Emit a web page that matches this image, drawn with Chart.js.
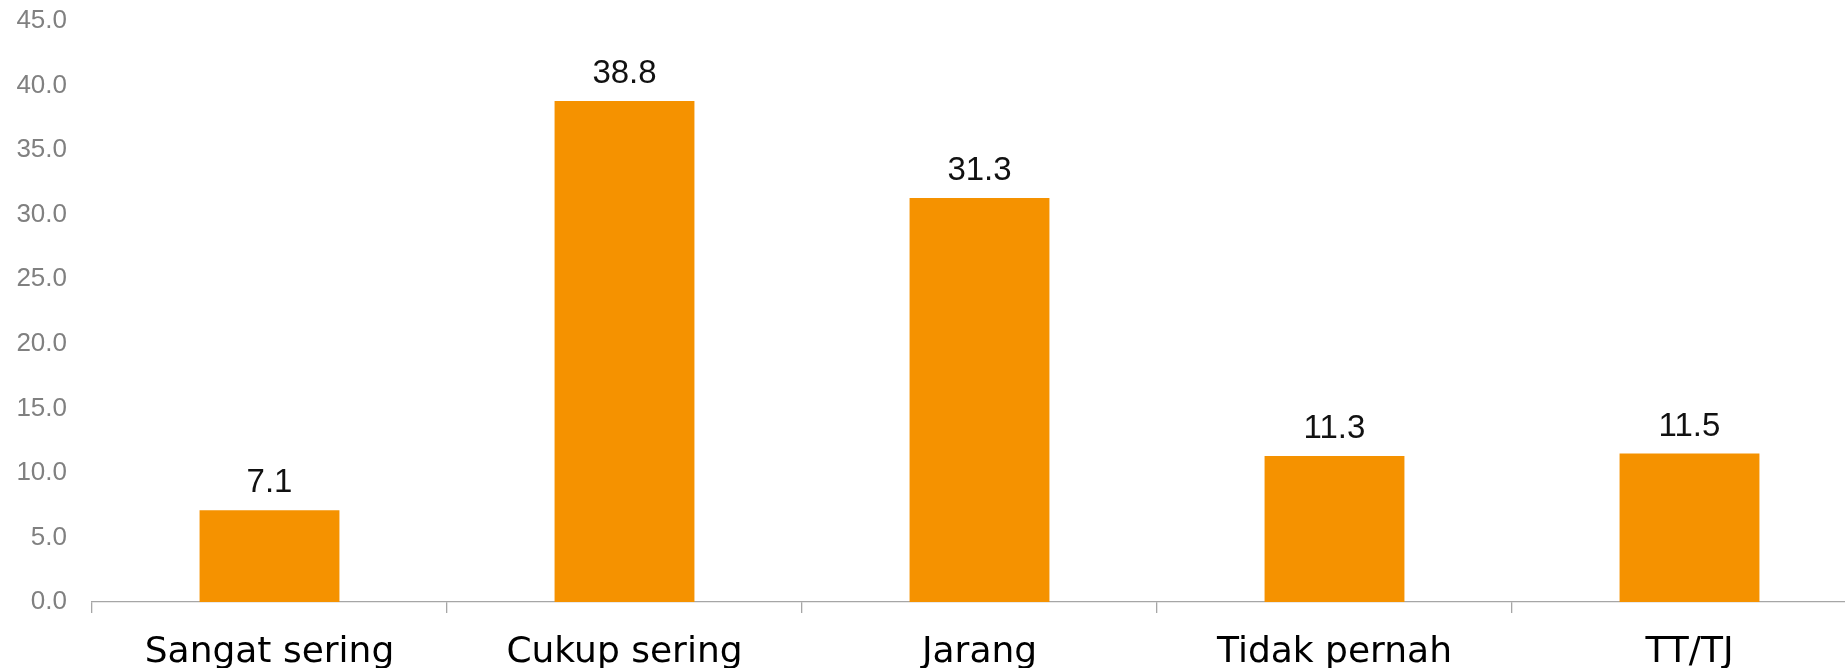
<!DOCTYPE html>
<html>
<head>
<meta charset="utf-8">
<script src="https://cdn.jsdelivr.net/npm/chart.js@4"></script>
<style>
  html, body { margin: 0; padding: 0; background: #fff; overflow: hidden; }
  #wrap { width: 1867px; height: 668px; }
</style>
</head>
<body>
<div id="wrap"><canvas id="chart-bars"></canvas></div>
<script>
// values
const categories = ['Sangat sering', 'Cukup sering', 'Jarang', 'Tidak pernah', 'TT/TJ'];
const values = [7.1, 38.8, 31.3, 11.3, 11.5];
const yMax = 45;
const yStep = 5;

// value labels above each bar
const barLabels = {
  id: 'barLabels',
  afterDatasetsDraw(chart) {
    const ctx = chart.ctx;
    const meta = chart.getDatasetMeta(0);
    ctx.save();
    ctx.font = '33px "Liberation Sans"';
    ctx.fillStyle = '#111';
    ctx.textAlign = 'center';
    ctx.textBaseline = 'alphabetic';
    meta.data.forEach((bar, i) => {
      ctx.fillText(values[i].toFixed(1), bar.x, bar.y - 18);
    });
    ctx.restore();
  }
};

const ctx = document.getElementById('chart-bars').getContext('2d');
new Chart(ctx, {
  type: 'bar',
  data: {
    labels: categories,
    datasets: [{ data: values, backgroundColor: '#f59200', barPercentage: 0.394, categoryPercentage: 1 }]
  },
  options: {
    responsive: true, maintainAspectRatio: false, animation: false, devicePixelRatio: 1,
    layout: { padding: { top: 21, right: 0, left: 0, bottom: 0 } },
    plugins: { legend: { display: false }, tooltip: { enabled: false } },
    scales: {
      x: {
        grid: { offset: true, drawOnChartArea: false, drawTicks: true, tickLength: 11, color: '#a6a6a6', lineWidth: 1.3 },
        border: { display: true, color: '#a6a6a6', width: 1.3 },
        ticks: { color: '#000', font: { family: 'DejaVu Sans', size: 36 }, padding: 18, maxRotation: 0, autoSkip: false },
        afterFit: (s) => { s.height = 66; s.paddingLeft = 0; s.paddingRight = 0; }
      },
      y: {
        min: 0, max: yMax,
        grid: { display: false },
        border: { display: false },
        ticks: { stepSize: yStep, color: '#808080', font: { family: 'Liberation Sans', size: 26 }, padding: 17,
                 callback: (v) => v.toFixed(1) },
        afterFit: (s) => { s.width = 92; s.paddingTop = 0; s.paddingBottom = 0; }
      }
    }
  },
  plugins: [barLabels]
});
</script>
</body>
</html>
